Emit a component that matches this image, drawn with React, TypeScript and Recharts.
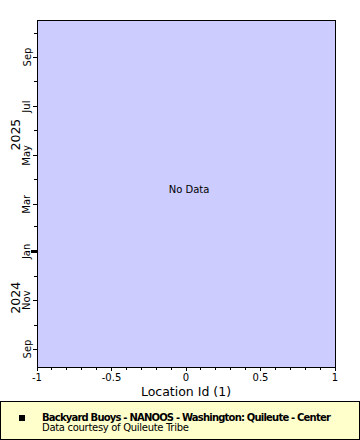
import { ScatterChart, Scatter, XAxis, YAxis, ReferenceArea, ReferenceDot } from 'recharts';

const SERIES_NAME = 'Backyard Buoys - NANOOS - Washington: Quileute - Center';
const CREDIT = 'Data courtesy of Quileute Tribe';

// the query returned nothing for this station / time range
const POINTS: { loc: number; t: number }[] = [];

const X_DOMAIN = [-1, 1];
const X_TICKS = [-1, -0.9, -0.8, -0.7, -0.6, -0.5, -0.4, -0.3, -0.2, -0.1, 0, 0.1, 0.2, 0.3, 0.4, 0.5, 0.6, 0.7, 0.8, 0.9, 1];
const X_MAJOR = [-1, -0.5, 0, 0.5, 1];

const Y_DOMAIN = ['2024-08-09T12:00:00Z', '2025-10-17T06:00:00Z'].map(Date.parse);
const MONTH_TICKS = [
  '2024-09-01', '2024-10-01', '2024-11-01', '2024-12-01', '2025-01-01', '2025-02-01', '2025-03-01',
  '2025-04-01', '2025-05-01', '2025-06-01', '2025-07-01', '2025-08-01', '2025-09-01', '2025-10-01',
].map(Date.parse);
const MONTH_NAMES = ['Jan', 'Feb', 'Mar', 'Apr', 'May', 'Jun', 'Jul', 'Aug', 'Sep', 'Oct', 'Nov', 'Dec'];
const YEAR_LABELS = [
  { label: '2025', t: Date.parse('2025-05-27') },
  { label: '2024', t: Date.parse('2024-11-04') },
];

const Y_TICKS = [...MONTH_TICKS, ...YEAR_LABELS.map(l => l.t)];

function XTick({ x, y, payload }: any) {
  const v = payload.value;
  const major = X_MAJOR.includes(v);
  return (
    <g>
      <line x1={x} x2={x} y1={y} y2={y + (major ? 4 : 3)} stroke="#000" shapeRendering="crispEdges" />
      {major && (
        <text x={x} y={y + 14} textAnchor="middle" fontSize={10} fill="#000">{String(v)}</text>
      )}
    </g>
  );
}

function YTick({ x, y, payload }: any) {
  const v = payload.value;
  const year = YEAR_LABELS.find(l => l.t === v);
  if (year) {
    return (
      <text x={x - 21} y={y} transform={`rotate(-90 ${x - 21} ${y})`} textAnchor="middle"
        dominantBaseline="central" fontSize={12.5} fill="#000">{year.label}</text>
    );
  }
  const m = new Date(v).getUTCMonth();
  const major = m % 2 === 0;
  const len = m === 0 ? 6 : major ? 4 : 3;
  return (
    <g>
      <line x1={x - len} x2={x} y1={y} y2={y} stroke="#000" strokeWidth={m === 0 ? 3 : 1} shapeRendering="crispEdges" />
      {major && (
        <text x={x - 10} y={y} transform={`rotate(-90 ${x - 10} ${y})`} textAnchor="middle"
          dominantBaseline="central" fontSize={10} fill="#000">{MONTH_NAMES[m]}</text>
      )}
    </g>
  );
}

export default function App() {
  return (
    <div style={{ position: 'absolute', left: 0, top: 0, width: 360, height: 440, background: '#fff', fontFamily: '"DejaVu Sans", sans-serif' }}>
      <ScatterChart width={360} height={400} margin={{ top: 20, right: 25, bottom: 3, left: 0 }}>
        <XAxis
          type="number"
          dataKey="loc"
          domain={X_DOMAIN}
          allowDataOverflow
          ticks={X_TICKS}
          interval={0}
          height={30}
          axisLine={false}
          tickLine={false}
          tickSize={0}
          tickMargin={0}
          tick={<XTick />}
          label={{ value: 'Location Id (1)', position: 'insideBottom', offset: 1, fontSize: 12.5, fill: '#000' }}
        />
        <YAxis
          type="number"
          dataKey="t"
          domain={Y_DOMAIN}
          allowDataOverflow
          ticks={Y_TICKS}
          interval={0}
          width={37}
          axisLine={false}
          tickLine={false}
          tickSize={0}
          tickMargin={0}
          tick={<YTick />}
        />
        <ReferenceArea
          x1={X_DOMAIN[0]} x2={X_DOMAIN[1]} y1={Y_DOMAIN[0]} y2={Y_DOMAIN[1]}
          fill="#ccccff" fillOpacity={1} stroke="#000" strokeWidth={1} ifOverflow="visible"
          shapeRendering="crispEdges"
        />
        <ReferenceDot
          x={0} y={(Y_DOMAIN[0] + Y_DOMAIN[1]) / 2} r={0} ifOverflow="visible"
          label={{ value: 'No Data', position: 'center', fontSize: 10, fill: '#000', dx: 3, dy: -4 }}
        />
        <Scatter name={SERIES_NAME} data={POINTS} fill="#000" isAnimationActive={false} />
      </ScatterChart>
      <div style={{
        position: 'absolute', left: 0, top: 401, width: 360, height: 39, boxSizing: 'border-box',
        border: '1px solid #000', background: '#ffffcc',
      }}>
        <div style={{ position: 'absolute', left: 18, top: 13, width: 6, height: 6, background: '#000' }} />
        <div style={{ position: 'absolute', left: 41, top: 10.5, fontSize: 10, lineHeight: '10px', whiteSpace: 'nowrap', color: '#000' }}>
          <div style={{ fontWeight: 'bold', letterSpacing: -0.8 }}>{SERIES_NAME}</div>
          <div style={{ letterSpacing: -0.3 }}>{CREDIT}</div>
        </div>
      </div>
    </div>
  );
}
